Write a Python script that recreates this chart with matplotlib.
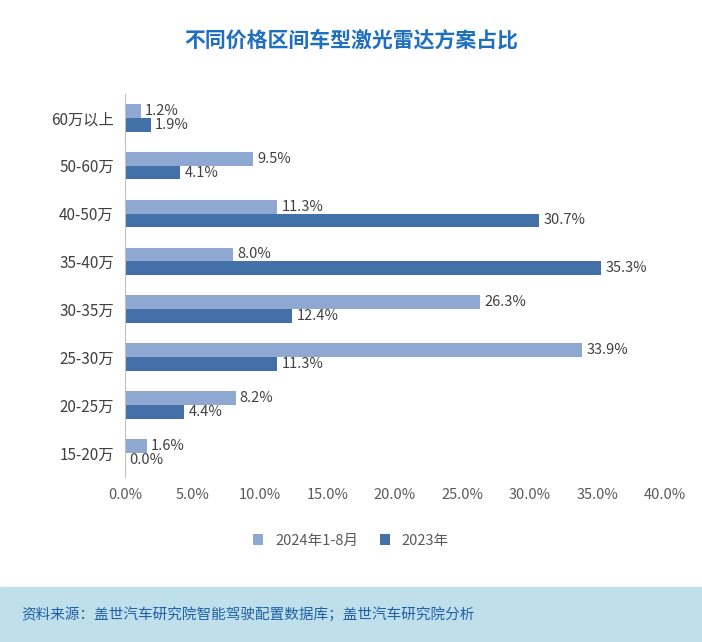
import matplotlib
matplotlib.use("Agg")
import matplotlib.pyplot as plt
import numpy as np

plt.rcParams['font.family'] = ['Noto Sans CJK SC', 'DejaVu Sans']

categories = ["60万以上", "50-60万", "40-50万", "35-40万", "30-35万", "25-30万", "20-25万", "15-20万"]
s2024 = [1.2, 9.5, 11.3, 8.0, 26.3, 33.9, 8.2, 1.6]
s2023 = [1.9, 4.1, 30.7, 35.3, 12.4, 11.3, 4.4, 0.0]
xticks = [0, 5, 10, 15, 20, 25, 30, 35, 40]

c24 = "#8FA8D2"
c23 = "#4470A8"

fig = plt.figure(figsize=(7.02, 6.42), dpi=100)
ax = fig.add_axes([0.178, 0.257, 0.769, 0.597])
y = np.arange(len(categories))
h = 0.29
b1 = ax.barh(y - h/2, s2024, height=h, color=c24, label="2024年1-8月")
b2 = ax.barh(y + h/2, s2023, height=h, color=c23, label="2023年")
for yi, v in zip(y, s2024):
    ax.text(v + 0.3, yi - h/2, f"{v:.1f}%", va="center", ha="left", fontsize=10.5, color="#404040")
for yi, v in zip(y, s2023):
    ax.text(v + 0.3, yi + h/2, f"{v:.1f}%", va="center", ha="left", fontsize=10.5, color="#404040")
ax.set_ylim(len(categories) - 0.5, -0.5)
ax.set_xlim(0, 40)
ax.set_xticks(xticks)
ax.set_xticklabels([f"{t:.1f}%" for t in xticks], fontsize=10.5, color="#595959")
ax.set_yticks(y)
ax.set_yticklabels(categories, fontsize=11, color="#404040")
ax.tick_params(length=0, pad=8)
for s in ["top", "right", "bottom"]:
    ax.spines[s].set_visible(False)
ax.spines["left"].set_color("#BFBFBF")

fig.text(0.5, 0.938, "不同价格区间车型激光雷达方案占比", ha="center", va="center",
         fontsize=15, fontweight="bold", color="#1F6FC0")
fig.legend(handles=[b1, b2], loc="center", bbox_to_anchor=(0.5, 0.158), ncol=2,
           frameon=False, fontsize=10.5, handlelength=0.7, handleheight=0.7, columnspacing=1.5,
           labelcolor="#595959")

band = plt.Rectangle((0, 0), 1, 0.085, transform=fig.transFigure, color="#BFE0EA", zorder=0)
fig.patches.append(band)
fig.text(0.03, 0.042, "资料来源：盖世汽车研究院智能驾驶配置数据库；盖世汽车研究院分析", ha="left", va="center",
         fontsize=10.5, style="italic", color="#1F5FA8")

fig.savefig("out.png", dpi=100)
